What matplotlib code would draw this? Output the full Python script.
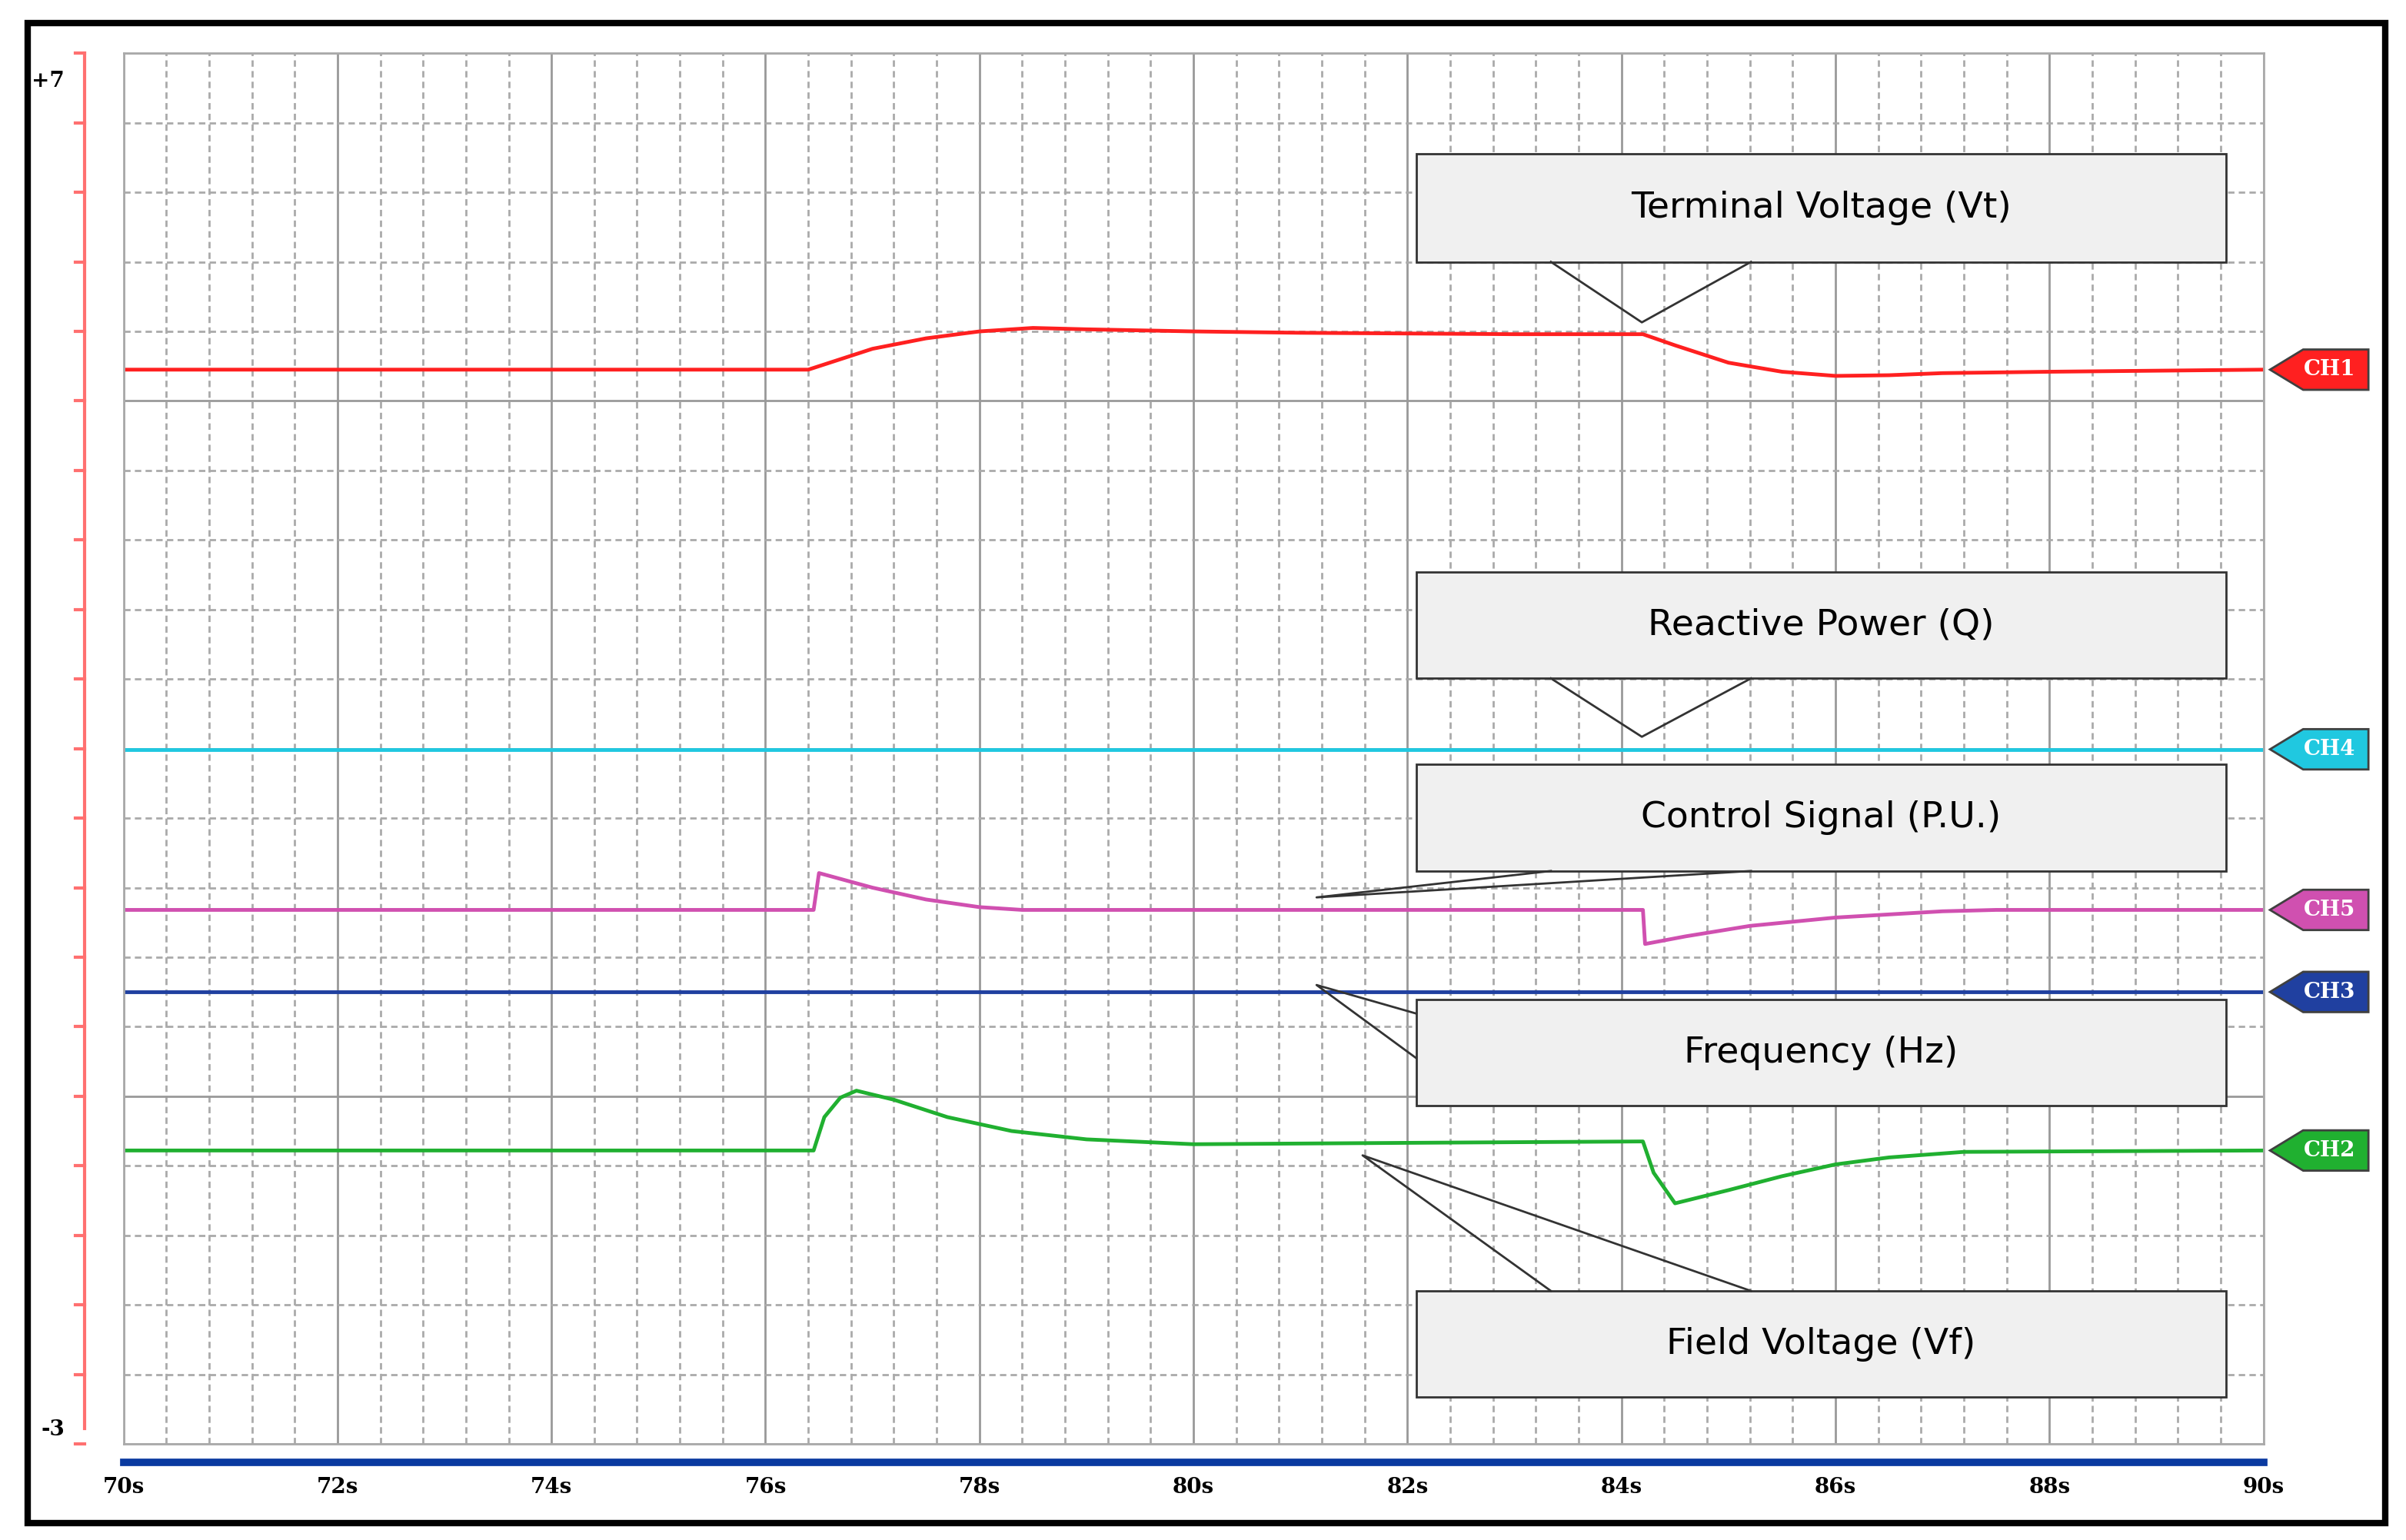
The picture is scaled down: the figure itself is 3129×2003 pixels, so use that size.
import numpy as np
import matplotlib.pyplot as plt
from matplotlib.patches import Rectangle, Polygon

# signal values in grid units (0 = bottom, 20 = top)
ch1_t = [70, 76.4, 76.6, 77, 77.5, 78, 78.5, 79, 80, 81, 82, 83, 84.2, 84.5, 85, 85.5, 86, 86.5, 87, 88, 90]
ch1_v = [15.45, 15.45, 15.55, 15.75, 15.9, 16.0, 16.05, 16.03, 16.0, 15.98, 15.97, 15.96, 15.96, 15.8, 15.55, 15.42, 15.36, 15.37, 15.4, 15.42, 15.45]
ch4_t = [70, 90]
ch4_v = [9.99, 9.99]
ch5_t = [70, 76.45, 76.5, 77, 77.5, 78, 78.4, 84.2, 84.22, 84.6, 85.2, 86, 87, 87.5, 90]
ch5_v = [7.68, 7.68, 8.21, 8.0, 7.83, 7.72, 7.68, 7.68, 7.19, 7.3, 7.45, 7.57, 7.66, 7.68, 7.68]
ch3_t = [70, 90]
ch3_v = [6.5, 6.5]
ch2_t = [70, 76.45, 76.55, 76.7, 76.85, 77.2, 77.7, 78.3, 79, 80, 82, 84.2, 84.3, 84.5, 85, 85.5, 86, 86.5, 87.2, 90]
ch2_v = [4.22, 4.22, 4.7, 4.98, 5.08, 4.95, 4.7, 4.5, 4.38, 4.31, 4.33, 4.35, 3.9, 3.46, 3.65, 3.85, 4.02, 4.12, 4.2, 4.22]

tick_labels = ['70s', '72s', '74s', '76s', '78s', '80s', '82s', '84s', '86s', '88s', '90s']
tags = [('CH1', 15.45, '#ff2020'), ('CH4', 9.99, '#20c8e0'), ('CH5', 7.68, '#d050b0'),
        ('CH3', 6.5, '#2040a0'), ('CH2', 4.22, '#20b030')]

fig = plt.figure(figsize=(31.29, 20.03), dpi=100)
fig.patches.append(Rectangle((0.0115, 0.011), 0.98, 0.974, transform=fig.transFigure,
                             fill=False, lw=6, ec='black'))
ax = fig.add_axes([0.0513, 0.0624, 0.8895, 0.903])
ax.set_xlim(70, 90)
ax.set_ylim(0, 20)
for s in ax.spines.values():
    s.set_color('#aaaaaa')
    s.set_linewidth(2)
ax.set_xticks([])
ax.set_yticks([])

for t in np.arange(70, 90.01, 0.4):
    if abs(t - round(t / 2) * 2) < 1e-6:
        ax.axvline(t, color='#999999', lw=2)
    else:
        ax.axvline(t, color='#aaaaaa', lw=2, ls=(0, (3, 2)))
for v in range(21):
    if v % 5 == 0:
        ax.axhline(v, color='#999999', lw=2)
    else:
        ax.axhline(v, color='#aaaaaa', lw=2, ls=(0, (3, 2)))

ax.plot(ch1_t, ch1_v, color='#ff2020', lw=3.5)
ax.plot(ch4_t, ch4_v, color='#20c8e0', lw=3.5)
ax.plot(ch5_t, ch5_v, color='#d050b0', lw=3.5)
ax.plot(ch3_t, ch3_v, color='#2040a0', lw=3.5)
ax.plot(ch2_t, ch2_v, color='#20b030', lw=3.5)

# channel tags
for name, y, c in tags:
    ax.add_patch(Polygon([(90.06, y), (90.37, y + 0.29), (90.98, y + 0.29), (90.98, y - 0.29), (90.37, y - 0.29)],
                         closed=True, fc=c, ec='#404040', lw=2, clip_on=False))
    ax.text(90.62, y, name, color='white', fontsize=20, fontweight='bold', family='DejaVu Serif',
            ha='center', va='center', clip_on=False)

# callouts
def callout(label, y0, y1, pts):
    ax.add_patch(Rectangle((82.08, y0), 7.57, y1 - y0, fc='#f0f0f0', ec='#333333', lw=2, zorder=5))
    ax.plot([p[0] for p in pts], [p[1] for p in pts], color='#333333', lw=2, zorder=6)
    ax.text(82.08 + 7.57 / 2, (y0 + y1) / 2, label, fontsize=34, ha='center', va='center', zorder=7)

callout('Terminal Voltage (Vt)', 17.0, 18.56, [(83.34, 17.0), (84.19, 16.13), (85.21, 17.0)])
callout('Reactive Power (Q)', 11.01, 12.54, [(83.34, 11.01), (84.19, 10.17), (85.21, 11.01)])
callout('Control Signal (P.U.)', 8.24, 9.77, [(83.34, 8.24), (81.15, 7.86), (85.21, 8.24)])
callout('Frequency (Hz)', 4.86, 6.39, [(82.08, 6.19), (81.15, 6.6), (82.08, 5.55)])
callout('Field Voltage (Vf)', 0.67, 2.2, [(83.34, 2.2), (81.58, 4.15), (85.21, 2.2)])

# left red scale
ax.plot([69.64, 69.64], [0.22, 20], color='#ff7070', lw=3, clip_on=False)
for v in range(21):
    ax.plot([69.55, 69.64], [v, v], color='#ff7070', lw=3, clip_on=False)
ax.text(69.45, 19.6, '+7', fontsize=20, ha='right', va='center', family='DejaVu Serif', fontweight='bold')
ax.text(69.45, 0.2, '-3', fontsize=20, ha='right', va='center', family='DejaVu Serif', fontweight='bold')

# bottom blue bar and time labels
ax.plot([70, 90], [-0.27, -0.27], color='#0a3aa0', lw=7, clip_on=False)
for i, lab in enumerate(tick_labels):
    ax.text(70 + 2 * i, -0.62, lab, fontsize=20, ha='center', va='center', family='DejaVu Serif',
            fontweight='bold')

fig.savefig('out.png', dpi=100)
